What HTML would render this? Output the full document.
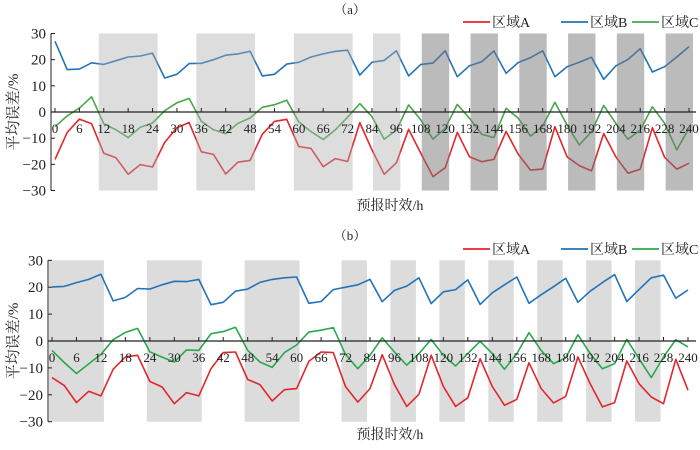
<!DOCTYPE html>
<html><head><meta charset="utf-8">
<style>
html,body{margin:0;padding:0;background:#fff;}
svg{display:block;font-family:"Liberation Serif","Noto Serif CJK SC","Noto Sans CJK SC",serif;}
</style></head>
<body>
<svg id="chart" width="700" height="450" viewBox="0 0 700 450" xmlns="http://www.w3.org/2000/svg"></svg>
<script>
const hours = [0,3,6,9,12,15,18,21,24,27,30,33,36,39,42,45,48,51,54,57,60,63,66,69,72,78,84,90,96,102,108,114,120,126,132,138,144,150,156,162,168,174,180,186,192,198,204,210,216,222,228,234,240];
const tickLabels = ["0","6","12","18","24","30","36","42","48","54","60","66","72","84","96","108","120","132","144","156","168","180","192","204","216","228","240"];
const yTicks = [30,20,10,0,-10,-20,-30];
const aRegionA = [-18.1,-7.8,-2.7,-4.5,-15.8,-17.5,-23.8,-20.1,-21,-11.6,-6,-4,-15.2,-16.2,-23.7,-19.2,-18.5,-8.5,-3.6,-2.8,-13.2,-13.9,-20.9,-17.8,-18.9,
 -4.1,-14.5,-23.8,-19.4,-6.6,-15.8,-24.7,-21.3,-7.8,-17.1,-19,-18.1,-7.4,-16.2,-22.2,-21.8,-5.6,-17.1,-20.5,-22.5,-8.2,-17.1,-23.4,-21.8,-6,-17.3,-21.8,-19.6];
const aRegionB = [27,16.2,16.4,18.8,18.2,19.6,21,21.4,22.5,13,14.4,18.5,18.6,20,21.7,22.2,23.2,13.8,14.4,18.3,19,21,22.2,23.2,23.6,
 14.1,19,19.7,23.4,13.8,18.2,18.7,23.4,13.5,17.7,19.2,23.3,14.8,18.9,20.8,23.4,13.5,17.3,19,20.9,12.5,17.6,20.1,24.2,15.3,17.3,21,25];
const aRegionC = [-5.6,-1.5,1.5,5.8,-4.5,-6.8,-9.8,-5.8,-4.2,0.5,3.5,5.2,-3.5,-6.8,-8.3,-4.3,-2.3,1.8,2.8,4.5,-3.8,-7.5,-10.5,-6.8,-2,
 3.2,-1.8,-10.4,-6.9,2.7,-3,-10.4,-6.2,2.9,-2.4,-8.5,-9.8,1.4,-2.4,-9.2,-5.4,3.7,-5,-12.6,-7.5,2.5,-4.3,-10.4,-6.9,2,-4.3,-14.5,-6.2];
const bRegionA = [-13.6,-16.5,-22.9,-18.7,-20.4,-10.5,-5.9,-5.3,-15,-17.1,-23.3,-19.2,-20.4,-10.3,-4.3,-4.1,-14.3,-16.2,-22.3,-18.1,-17.7,-7.6,-4.1,-4.3,-16.9,
 -22.7,-17.7,-5.1,-16.2,-24.3,-19.8,-5.3,-16.9,-24.3,-21.1,-6.6,-16.9,-23.9,-21.7,-8.1,-17.7,-23,-20.6,-5.9,-15.9,-24.5,-22.9,-7.4,-15.9,-20.8,-23.3,-6.8,-18.3];
const bRegionB = [20.1,20.3,21.7,22.9,24.8,14.9,16.2,19.5,19.3,20.9,22.2,22.1,22.9,13.5,14.4,18.5,19.3,21.8,22.9,23.5,23.8,14,14.7,19.1,20,
 20.9,22.9,14.6,18.8,20.4,23.5,13.9,18.3,19.1,22.7,13.6,17.9,20.9,23.8,14,17.2,20.2,23.3,14.4,18.5,21.7,24.7,14.7,19.2,23.5,24.5,15.9,19];
const bRegionC = [-3.5,-8,-12.1,-8.5,-5,0.5,3.2,4.7,-4,-6,-7.8,-3.3,-3.5,2.7,3.5,5.1,-3.5,-7.8,-9.8,-4.3,-1.5,3.3,4,5,-5,
 -10.3,-5.3,1.2,-4.1,-9,-4.7,0.6,-5.3,-9.3,-4.7,-0.1,-4.7,-10.5,-4.7,3.1,-3.5,-8.4,-6.3,2.3,-4.7,-10.3,-8.4,0.6,-6.6,-13.6,-5.9,0.5,-2.2];
const aBands = [[12,24],[36,48],[60,72],[84,96],[108,120],[132,144],[156,168],[180,192],[204,216],[228,240]];
const bBands = [[0,12],[24,36],[48,60],[72,84],[96,108],[120,132],[144,156],[168,180],[192,204],[216,228]];

const NS="http://www.w3.org/2000/svg";
const svg=document.getElementById('chart');
function mk(tag,attrs,parent){const e=document.createElementNS(NS,tag);for(const k in attrs)e.setAttribute(k,attrs[k]);(parent||svg).appendChild(e);return e;}

function drawPanel(cfg){
  const g=mk('g',{});
  
  
  const step=(cfg.x1-cfg.x0)/(hours.length-1);
  const xOf=h=>cfg.x0+hours.indexOf(h)*step;
  const yOf=v=>cfg.yZero-v*cfg.yUnit;
  const bandsG=mk('g',{},g);
  function drawBands(alphaMode){
    cfg.bands.forEach((b,i)=>{
      const early=b[1]<=72;
      const pl=early?cfg.earlyPad[0]:cfg.latePad[0];
      const pr=early?cfg.earlyPad[1]:cfg.latePad[1];
      const xa=xOf(b[0])-pl, xb=xOf(b[1])+pr;
      const dark = cfg.dark && i>=4;
      const r=mk('rect',{x:xa,y:yOf(30),width:xb-xa,height:yOf(-30)-yOf(30),
        fill: alphaMode ? (dark?'rgba(120,120,120,0.5)':'rgba(175,175,175,0.42)') : '#dcdcdc'},alphaMode?g:bandsG);
      
      
    });
  }
  if(!cfg.overlay) drawBands(false);
  const series=[[cfg.A,'#e3262b','region-a-line'],[cfg.B,'#2373b9','region-b-line'],[cfg.C,cfg.green,'region-c-line']];
  series.forEach(s=>{
    const pts=s[0].map((v,i)=>xOf(hours[i]).toFixed(1)+','+yOf(v).toFixed(1)).join(' ');
    const p=mk('polyline',{points:pts,fill:'none',stroke:s[1],'stroke-width':1.6,'stroke-linejoin':'round'},g);
    
    
  });
  if(cfg.overlay) drawBands(true);
  const ya=mk('line',{x1:cfg.axisX,y1:yOf(30),x2:cfg.axisX,y2:yOf(-30),stroke:'#222','stroke-width':1},g);
  
  
  const xa=mk('line',{x1:cfg.axisX,y1:yOf(0),x2:696,y2:yOf(0),stroke:'#222','stroke-width':1.2},g);
  
  
  yTicks.forEach(v=>{
    mk('line',{x1:cfg.axisX,y1:yOf(v),x2:cfg.axisX+4,y2:yOf(v),stroke:'#222'},g);
    const t=mk('text',{x:cfg.axisX-5,y:yOf(v)+5,'text-anchor':'end','font-size':15,fill:'#222'},g);
    t.textContent=v<0?'\u2212'+Math.abs(v):String(v);
    
    
  });
  tickLabels.forEach(l=>{
    const x=xOf(+l);
    mk('line',{x1:x,y1:yOf(0),x2:x,y2:yOf(0)-4,stroke:'#222'},g);
    const t=mk('text',{x:x,y:yOf(0)+21,'text-anchor':'middle','font-size':13,fill:'#222'},g);
    t.textContent=l;
    
    
  });
  const yt=mk('text',{x:0,y:0,transform:`translate(18,${yOf(0)}) rotate(-90)`,'text-anchor':'middle','font-size':15,fill:'#222'},g);
  yt.textContent='平均误差/%';
  
  
  const xt=mk('text',{x:390,y:cfg.xTitleY,'text-anchor':'middle','font-size':14,fill:'#222'},g);
  xt.textContent='预报时效/h';
  
  
  const pt=mk('text',{x:350,y:cfg.titleY,'text-anchor':'middle','font-size':13,fill:'#222'},g);
  pt.textContent=cfg.label;
  
  
  const leg=[['区域A','#e3262b',463],['区域B','#2373b9',561],['区域C',cfg.green,632]];
  leg.forEach(L=>{
    const lg=mk('g',{},g);
    
    
    mk('line',{x1:L[2],y1:cfg.legY-5,x2:L[2]+27,y2:cfg.legY-5,stroke:L[1],'stroke-width':1.8},lg);
    const t=mk('text',{x:L[2]+29,y:cfg.legY,'font-size':14,fill:'#222'},lg);
    t.textContent=L[0];
  });
}
drawPanel({name:'chart-a',x0:55,x1:689,yZero:112,yUnit:2.617,axisX:51,A:aRegionA,B:aRegionB,C:aRegionC,green:'#47a84a',
  bands:aBands,earlyPad:[5,5],latePad:[-1,4],overlay:true,dark:true,xTitleY:210,titleY:14,legY:27,label:'（a）'});
drawPanel({name:'chart-b',x0:52,x1:688,yZero:341,yUnit:2.69,axisX:48,A:bRegionA,B:bRegionB,C:bRegionC,green:'#2aa84c',
  bands:bBands,earlyPad:[3,3],latePad:[4,-3],overlay:false,dark:false,xTitleY:439,titleY:240,legY:254,label:'（b）'});
</script>
</body></html>
